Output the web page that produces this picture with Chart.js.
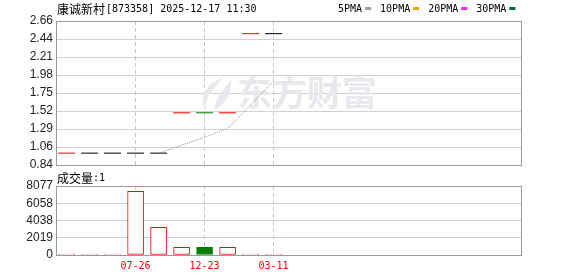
<!DOCTYPE html>
<html>
<head>
<meta charset="utf-8">
<script src="https://cdn.jsdelivr.net/npm/chart.js@4/dist/chart.umd.min.js"></script>
<style>
html, body { margin: 0; padding: 0; background: #fff; }
#wrap { position: relative; width: 578px; height: 276px; }
#priceChart { position: absolute; left: 0; top: 0; }
#volChart { position: absolute; left: 0; top: 172px; }
</style>
</head>
<body>
<div id="wrap">
  <canvas id="priceChart" width="578" height="172"></canvas>
  <canvas id="volChart" width="578" height="104"></canvas>
</div>
<script>
// data
const closes = [0.99, 0.99, 0.99, 0.99, 0.99, 1.50, 1.50, 1.50, 2.50, 2.50];
const candleDir = ['up', 'flat', 'flat', 'flat', 'flat', 'up', 'down', 'up', 'up', 'flat'];
const ma5 = [null, null, null, null, 0.99, 1.09, 1.19, 1.30, 1.60, 1.90];
const volumes = [20, 20, 20, 7460, 3240, 900, 900, 900, 20, 1];
const priceTickLabels = ['0.84', '1.06', '1.29', '1.52', '1.75', '1.98', '2.21', '2.44', '2.66'];
const volTicks = [0, 2019, 4038, 6058, 8077];
const dateTickIndex = [3, 6, 9];
const dateTickLabels = ['07-26', '12-23', '03-11'];
const maNames = ['5PMA', '10PMA', '20PMA', '30PMA'];
const maColors = ['#a0a0a0', '#f0a000', '#ff22ff', '#006a33'];
const titleName = '康诚新村';
const titleInfo = '[873358] 2025-12-17 11:30';
const volName = '成交量';
const volInfo = ':1';

const dirColor = { up: '#ff0000', down: '#008000', flat: '#000000' };
const priceMin = 0.84, priceMax = 2.66;
const xMin = -0.46, xMax = 19.8;
const monoFont = '10px "DejaVu Sans Mono"';
const cjkFont = '12px "Noto Sans CJK SC"';

const frame = {
    id: 'frame',
    beforeDatasetsDraw(chart) {
        const a = chart.chartArea, c = chart.ctx;
        c.save();
        c.strokeStyle = '#999';
        c.lineWidth = 1;
        c.strokeRect(Math.round(a.left) + 0.5, Math.round(a.top) + 0.5,
            Math.round(a.right - a.left) - 1, Math.round(a.bottom - a.top));
        c.restore();
    }
};

const watermark = {
    id: 'watermark',
    beforeDatasetsDraw(chart) {
        const c = chart.ctx;
        c.save();
        c.fillStyle = '#e8e8ed';
        // rough flame logo
        c.beginPath();
        c.moveTo(224, 77);
        c.bezierCurveTo(206, 84, 197, 98, 206, 110);
        c.bezierCurveTo(204, 99, 212, 90, 224, 77);
        c.fill();
        c.beginPath();
        c.moveTo(231, 80);
        c.bezierCurveTo(220, 92, 215, 102, 214, 110);
        c.bezierCurveTo(226, 104, 232, 94, 231, 80);
        c.fill();
        c.font = 'bold 35px "Noto Sans CJK SC"';
        c.textBaseline = 'middle';
        c.fillText('东方财富', 237, 93);
        c.restore();
    }
};

const priceTexts = {
    id: 'priceTexts',
    afterDraw(chart) {
        const c = chart.ctx;
        c.save();
        c.fillStyle = '#000';
        c.textBaseline = 'middle';
        c.font = cjkFont;
        c.fillText(titleName, 57, 9);
        const w = c.measureText(titleName).width;
        c.font = monoFont;
        c.fillText(titleInfo, 57 + w + 1, 9);
        let x = 338;
        maNames.forEach((n, i) => {
            c.fillStyle = '#000';
            c.fillText(n, x, 9);
            x += c.measureText(n).width + 3;
            c.fillStyle = maColors[i];
            c.fillRect(x, 7, 6, 3);
            x += 6 + 9;
        });
        c.restore();
    }
};

const volTexts = {
    id: 'volTexts',
    afterDraw(chart) {
        const c = chart.ctx;
        c.save();
        c.fillStyle = '#000';
        c.textBaseline = 'middle';
        c.font = cjkFont;
        c.fillText(volName, 57, 6);
        const w = c.measureText(volName).width;
        c.font = monoFont;
        c.fillText(volInfo, 57 + w, 6);
        c.restore();
    }
};

const xScale = (showLabels) => ({
    type: 'linear',
    min: xMin,
    max: xMax,
    offset: false,
    afterBuildTicks: s => { s.ticks = dateTickIndex.map(v => ({ value: v })); },
    ticks: {
        display: showLabels,
        autoSkip: false,
        color: '#ff0000',
        font: { family: 'DejaVu Sans Mono', size: 10 },
        padding: 5,
        maxRotation: 0,
        callback: (v, i) => dateTickLabels[i]
    },
    grid: { color: '#c8c8c8', drawTicks: false, offset: false },
    border: { display: false, dash: [4, 3] },
    afterFit: s => {
        s.height = showLabels ? 21 : 0;
        s.paddingLeft = 0; s.paddingRight = 0;
    }
});

const yTickFont = { family: 'Liberation Sans', size: 12 };
const fitY = s => {
    s.width = 56;
    s.paddingTop = 0; s.paddingBottom = 0;
};

new Chart(document.getElementById('priceChart').getContext('2d'), {
    type: 'line',
    data: {
        datasets: [
            {
                data: ma5.map((v, i) => ({ x: i, y: v })),
                borderColor: '#909090',
                borderWidth: 1,
                borderDash: [1, 1],
                pointRadius: 0,
                fill: false
            },
            {
                data: closes.map((v, i) => ({ x: i, y: v })),
                showLine: false,
                pointStyle: 'line',
                pointRadius: 8.5,
                pointHoverRadius: 8.5,
                pointBorderWidth: 1,
                pointBorderColor: candleDir.map(d => dirColor[d]),
                pointBackgroundColor: candleDir.map(d => dirColor[d])
            }
        ]
    },
    options: {
        responsive: false,
        animation: false,
        events: [],
        layout: { autoPadding: false, padding: { top: 21, right: 56, bottom: 7, left: 0 } },
        scales: {
            x: xScale(false),
            y: {
                min: priceMin,
                max: priceMax,
                afterBuildTicks: s => {
                    s.ticks = priceTickLabels.map((t, i) => ({ value: priceMin + i * (priceMax - priceMin) / (priceTickLabels.length - 1) }));
                },
                ticks: {
                    autoSkip: false,
                    color: '#222',
                    font: yTickFont,
                    padding: 3,
                    callback: (v, i) => priceTickLabels[i]
                },
                grid: { color: '#d0d0d0', drawTicks: false },
                border: { display: false },
                afterFit: fitY
            }
        },
        plugins: { legend: { display: false }, tooltip: { enabled: false } }
    },
    plugins: [frame, watermark, priceTexts]
});

new Chart(document.getElementById('volChart').getContext('2d'), {
    type: 'bar',
    data: {
        datasets: [{
            data: volumes.map((v, i) => ({ x: i, y: v })),
            backgroundColor: candleDir.map(d => d === 'down' ? '#008000' : '#ffffff'),
            borderColor: candleDir.map(d => d === 'down' ? '#008000' : '#ff0000'),
            borderWidth: 1,
            borderSkipped: false,
            barThickness: 16,
            minBarLength: 1
        }]
    },
    options: {
        responsive: false,
        animation: false,
        events: [],
        layout: { autoPadding: false, padding: { top: 14, right: 56, bottom: 0, left: 0 } },
        scales: {
            x: xScale(true),
            y: {
                min: 0,
                max: volTicks[volTicks.length - 1],
                afterBuildTicks: s => { s.ticks = volTicks.map(v => ({ value: v })); },
                ticks: {
                    autoSkip: false,
                    color: '#222',
                    font: yTickFont,
                    padding: 3,
                    callback: v => String(v)
                },
                grid: { color: '#d0d0d0', drawTicks: false },
                border: { display: false },
                afterFit: fitY
            }
        },
        plugins: { legend: { display: false }, tooltip: { enabled: false } }
    },
    plugins: [frame, volTexts]
});
</script>
</body>
</html>
